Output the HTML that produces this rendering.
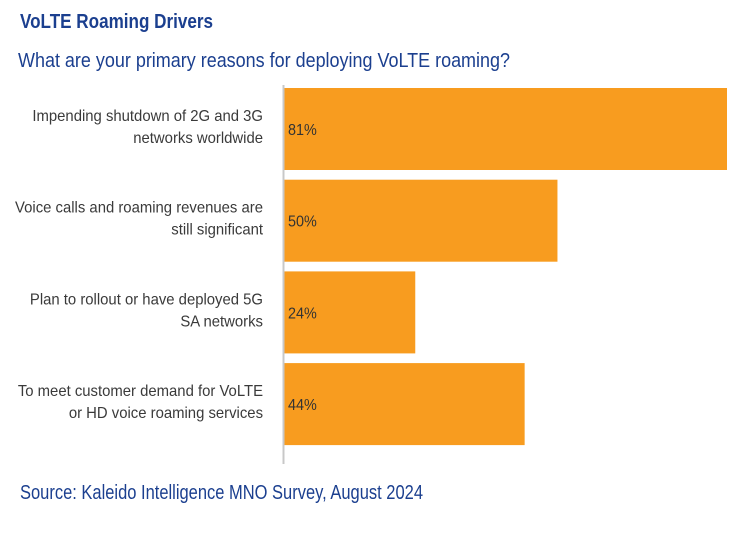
<!DOCTYPE html>
<html><head><meta charset="utf-8"><style>
html,body{margin:0;padding:0;background:#fff;}
svg{display:block;font-family:"Liberation Sans Narrow","Liberation Sans",sans-serif;}
</style></head><body>
<svg id="chart" width="750" height="537" viewBox="0 0 750 537" xmlns="http://www.w3.org/2000/svg">
<text x="20" y="28" font-size="20" font-weight="bold" fill="#1b3f8f" textLength="193" lengthAdjust="spacingAndGlyphs">VoLTE Roaming Drivers</text>
<text x="18" y="67" font-size="20" fill="#1b3f8f" textLength="492" lengthAdjust="spacingAndGlyphs">What are your primary reasons for deploying VoLTE roaming?</text>
<g id="bars"></g>
<line x1="283.5" y1="85" x2="283.5" y2="464" stroke="#c8c8c8" stroke-width="2"/>
<text x="20" y="499" font-size="20" fill="#1b3f8f" textLength="403" lengthAdjust="spacingAndGlyphs">Source: Kaleido Intelligence MNO Survey, August 2024</text>
</svg>
<script>
const categories = [
  ["Impending shutdown of 2G and 3G","networks worldwide"],
  ["Voice calls and roaming revenues are","still significant"],
  ["Plan to rollout or have deployed 5G","SA networks"],
  ["To meet customer demand for VoLTE","or HD voice roaming services"]
];
const values = [81, 50, 24, 44];
const valueLabels = ["81%", "50%", "24%", "44%"];

const NS = "http://www.w3.org/2000/svg";
const g = document.getElementById("bars");
const x0 = 284, pxPerUnit = 443/81;
const yTop = 88, band = 91.7, barH = 82;
const xScale = v => v * pxPerUnit;
const yScale = i => yTop + i * band;

values.forEach((v, i) => {
  const y = yScale(i);
  const r = document.createElementNS(NS, "rect");
  
  
  r.setAttribute("x", x0); r.setAttribute("y", y);
  r.setAttribute("width", xScale(v)); r.setAttribute("height", barH);
  r.setAttribute("fill", "#f89c1f");
  g.appendChild(r);

  const t = document.createElementNS(NS, "text");
  
  
  t.setAttribute("transform", `translate(288,${y + barH/2 + 6}) scale(0.9,1)`);
  t.setAttribute("font-size", "16"); t.setAttribute("fill", "#333");
  t.textContent = valueLabels[i];
  g.appendChild(t);

  categories[i].forEach((line, j) => {
    const c = document.createElementNS(NS, "text");
    
    
    c.setAttribute("transform", `translate(263,${y + 33 + j * 22}) scale(0.93,1)`);
    c.setAttribute("text-anchor", "end");
    c.setAttribute("font-size", "16"); c.setAttribute("fill", "#3a3a3a");
    c.textContent = line;
    g.appendChild(c);
  });
});
</script>
</body></html>
